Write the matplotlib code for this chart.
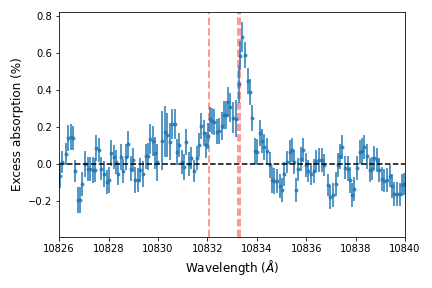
import matplotlib
matplotlib.use("Agg")
import matplotlib.pyplot as plt

wavelength = [
    10826.03, 10826.13, 10826.27, 10826.35, 10826.46, 10826.54, 10826.66, 10826.76, 10826.85, 10826.94,
    10827.05, 10827.16, 10827.24, 10827.36, 10827.43, 10827.51, 10827.62, 10827.70, 10827.83, 10827.93,
    10828.02, 10828.10, 10828.20, 10828.29, 10828.38, 10828.51, 10828.60, 10828.71, 10828.78, 10828.89,
    10828.99, 10829.08, 10829.18, 10829.29, 10829.40, 10829.51, 10829.61, 10829.69, 10829.78, 10829.88,
    10829.97, 10830.16, 10830.29, 10830.37, 10830.48, 10830.56, 10830.67, 10830.77, 10830.86, 10830.99,
    10831.07, 10831.15, 10831.26, 10831.34, 10831.47, 10831.56, 10831.66, 10831.75, 10831.86, 10831.94,
    10832.04, 10832.12, 10832.20, 10832.28, 10832.39, 10832.47, 10832.58, 10832.66, 10832.75, 10832.85,
    10832.93, 10833.04, 10833.15, 10833.26, 10833.34, 10833.42, 10833.53, 10833.64, 10833.74, 10833.82,
    10833.93, 10834.01, 10834.15, 10834.23, 10834.31, 10834.42, 10834.53, 10834.61, 10834.71, 10834.82,
    10834.93, 10835.01, 10835.12, 10835.23, 10835.36, 10835.42, 10835.52, 10835.60, 10835.68, 10835.79,
    10835.87, 10835.98, 10836.09, 10836.20, 10836.31, 10836.41, 10836.52, 10836.63, 10836.73, 10836.90,
    10836.98, 10837.09, 10837.20, 10837.28, 10837.38, 10837.46, 10837.57, 10837.68, 10837.79, 10837.87,
    10837.95, 10838.06, 10838.17, 10838.27, 10838.35, 10838.46, 10838.57, 10838.68, 10838.76, 10838.87,
    10838.95, 10839.06, 10839.16, 10839.27, 10839.38, 10839.46, 10839.57, 10839.68, 10839.79, 10839.87,
    10839.97,
]

excess = [
    -0.065, 0.01, 0.055, 0.14, 0.145, 0.14, -0.04, -0.195, -0.195, -0.11,
    0.0, -0.03, -0.03, -0.035, -0.035, 0.085, 0.075, -0.025, -0.055, -0.1,
    -0.085, 0.06, 0.035, 0.01, -0.055, 0.035, -0.04, 0.035, 0.105, -0.025,
    0.02, -0.085, -0.085, -0.035, -0.055, 0.04, 0.04, 0.135, 0.125, 0.06,
    0.01, 0.125, 0.175, 0.155, 0.12, 0.215, 0.215, 0.065, 0.1, 0.01,
    -0.015, 0.117, 0.0, 0.03, -0.04, 0.03, 0.1, 0.205, 0.165, 0.1,
    0.15, 0.24, 0.23, 0.228, 0.175, 0.18, 0.205, 0.265, 0.265, 0.333,
    0.305, 0.25, 0.245, 0.43, 0.585, 0.685, 0.59, 0.45, 0.39, 0.25,
    0.07, 0.065, 0.165, 0.125, 0.09, 0.07, -0.005, -0.085, -0.09, -0.09,
    -0.12, -0.14, -0.055, 0.01, 0.065, 0.075, 0.01, -0.14, -0.03, 0.027,
    0.075, -0.005, -0.04, -0.055, -0.04, 0.015, 0.02, 0.022, -0.005, -0.115,
    -0.18, -0.17, -0.11, -0.005, 0.04, 0.09, -0.02, -0.025, -0.085, -0.17,
    -0.135, -0.02, 0.065, 0.07, 0.09, 0.04, -0.035, -0.025, 0.03, 0.022,
    -0.035, -0.08, -0.09, -0.085, -0.065, -0.12, -0.165, -0.165, -0.165, -0.115,
    -0.11,
]

error = [
    0.065, 0.06, 0.06, 0.07, 0.07, 0.065, 0.06, 0.07, 0.07, 0.065,
    0.07, 0.065, 0.065, 0.07, 0.065, 0.07, 0.065, 0.06, 0.07, 0.065,
    0.07, 0.07, 0.065, 0.065, 0.06, 0.07, 0.065, 0.07, 0.075, 0.07,
    0.065, 0.07, 0.065, 0.065, 0.07, 0.07, 0.075, 0.08, 0.08, 0.085,
    0.1, 0.16, 0.14, 0.12, 0.1, 0.08, 0.08, 0.07, 0.065, 0.065,
    0.07, 0.07, 0.065, 0.06, 0.06, 0.065, 0.065, 0.07, 0.07, 0.07,
    0.07, 0.07, 0.07, 0.07, 0.07, 0.07, 0.075, 0.075, 0.075, 0.08,
    0.08, 0.085, 0.1, 0.1, 0.08, 0.08, 0.07, 0.07, 0.07, 0.07,
    0.07, 0.07, 0.07, 0.065, 0.07, 0.07, 0.07, 0.07, 0.07, 0.065,
    0.065, 0.065, 0.065, 0.06, 0.065, 0.065, 0.065, 0.065, 0.06, 0.065,
    0.065, 0.065, 0.06, 0.06, 0.065, 0.06, 0.065, 0.065, 0.06, 0.06,
    0.065, 0.065, 0.065, 0.065, 0.065, 0.065, 0.06, 0.065, 0.07, 0.065,
    0.065, 0.065, 0.065, 0.07, 0.065, 0.065, 0.065, 0.06, 0.065, 0.065,
    0.065, 0.065, 0.06, 0.065, 0.06, 0.065, 0.065, 0.065, 0.06, 0.06,
    0.06,
]

line_centres = [10832.06, 10833.22, 10833.31]

fig = plt.figure(figsize=(6, 4), dpi=72)
ax = fig.add_axes([0.137, 0.177, 0.8005, 0.781])

for lc in line_centres:
    ax.axvline(lc, color="red", ls="--", lw=2, alpha=0.4, zorder=1)

ax.errorbar(wavelength, excess, yerr=error, fmt="o", ms=3, color="C0",
            elinewidth=2, alpha=0.75, zorder=2)
ax.axhline(0, color="black", ls="--", lw=1.5, zorder=3)

ax.set_xlim(10826, 10840)
ax.set_ylim(-0.395, 0.82)
ax.set_xticks([10826, 10828, 10830, 10832, 10834, 10836, 10838, 10840])
ax.set_yticks([-0.2, 0.0, 0.2, 0.4, 0.6, 0.8])
ax.tick_params(labelsize=10)
ax.set_xlabel(r"Wavelength ($\AA$)", fontsize=12)
ax.set_ylabel("Excess absorption (%)", fontsize=12)

fig.savefig("out.png", dpi=72)
